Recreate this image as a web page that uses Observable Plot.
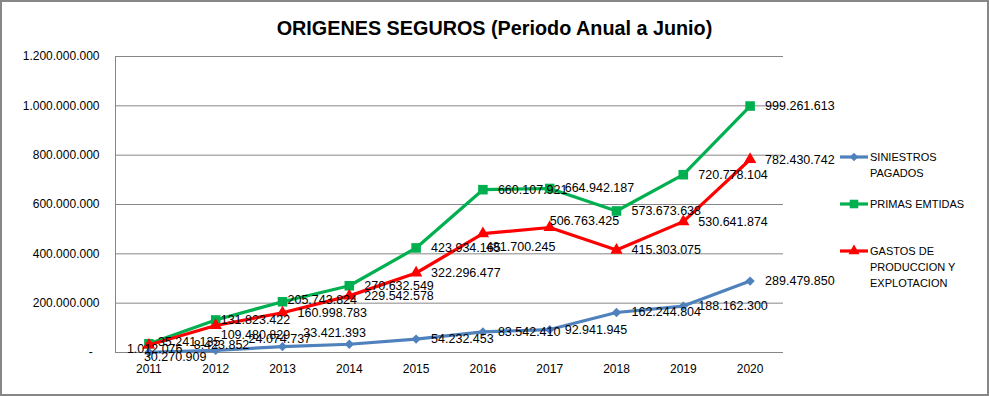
<!DOCTYPE html>
<html>
<head>
<meta charset="utf-8">
<script src="https://cdn.jsdelivr.net/npm/d3@7"></script>
<script src="https://cdn.jsdelivr.net/npm/@observablehq/plot@0.6"></script>
<style>
  html, body { margin: 0; padding: 0; background: #fff; }
  #wrap { position: relative; width: 989px; height: 396px; overflow: hidden; font-family: "Liberation Sans", Arial, sans-serif; }
  #border { position: absolute; left: 0; top: 0; width: 989px; height: 396px; box-sizing: border-box; border: 2px solid #878787; pointer-events: none; }
  #title { position: absolute; left: 0; width: 989px; top: 14px; text-align: center; font-size: 19.8px; font-weight: bold; color: #000; line-height: 28px; }
  #chart { position: absolute; left: 0; top: 0; }
  #legend { position: absolute; left: 839px; top: 0; }
  .item { position: absolute; left: 0; display: flex; align-items: flex-start; }
  .item svg { flex: none; }
  .item span { width: 112px; font-size: 11px; line-height: 16px; color: #000; margin-left: 1px; }
</style>
</head>
<body>
<div id="wrap">
  <div id="chart"></div>
  <div id="title"></div>
  <div id="legend"></div>
  <div id="border"></div>
</div>
<script>
// ---- data ----
const chartTitle = "ORIGENES SEGUROS (Periodo Anual a Junio)";
const years = [2011, 2012, 2013, 2014, 2015, 2016, 2017, 2018, 2019, 2020];
const siniestrosPagados = [1012076, 8423852, 24074737, 33421393, 54232453, 83542410, 92941945, 162244804, 188162300, 289479850];
const primasEmitidas = [35241135, 131823422, 205743824, 270632549, 423934165, 660107921, 664942187, 573673638, 720778104, 999261613];
const gastosProduccion = [30270909, 109480829, 160998783, 229542578, 322296477, 481700245, 506763425, 415303075, 530641874, 782430742];
const seriesNames = ["SINIESTROS PAGADOS", "PRIMAS EMTIDAS", "GASTOS DE PRODUCCION Y EXPLOTACION"];
const yTicks = [0, 200000000, 400000000, 600000000, 800000000, 1000000000, 1200000000];

// ---- styles ----
const styles = [
  {key: "S", color: "#4F81BD", symbol: "diamond2", r: 4.2},
  {key: "P", color: "#00B050", symbol: "square", r: 5.4},
  {key: "G", color: "#FF0000", symbol: "triangle", r: 4.6}
];
const seriesValues = [siniestrosPagados, primasEmitidas, gastosProduccion];

// label nudges (pixel offsets) for labels that were moved in the original
const labelNudges = {
  S2011: [-22, -3], S2012: [-22, -5], S2013: [-34, -8], S2014: [-46, -11],
  P2011: [9, -2], P2012: [5, 0], P2013: [5, -2],
  G2011: [-5, 12], G2012: [5, 10], G2016: [3, 13], G2017: [0, -6]
};
const defaultNudge = [15, 0];

const fmt = v => v === 0 ? "-\u00a0\u00a0" : d3.format(",")(v).replace(/,/g, ".");

const rows = [];
seriesValues.forEach((vals, si) => years.forEach((yr, i) => rows.push({
  series: seriesNames[si], key: styles[si].key, year: yr, value: vals[i]
})));

const marks = [
  Plot.ruleY(yTicks, {stroke: "#878787", strokeWidth: 1}),
  Plot.ruleX([years[0] - 0.5], {stroke: "#878787", strokeWidth: 1}),
  Plot.axisY({ticks: yTicks, tickSize: 0, tickPadding: 16, tickFormat: fmt, fontSize: 12, fill: "#000", label: null}),
  Plot.axisX({ticks: years, tickSize: 0, tickPadding: 12, tickFormat: d => String(d), fontSize: 12, fill: "#000", label: null})
];
styles.forEach((st, si) => {
  const data = rows.filter(r => r.key === st.key);
  marks.push(Plot.line(data, {x: "year", y: "value", stroke: st.color, strokeWidth: 3.2, strokeLinejoin: "round"}));
  marks.push(Plot.dot(data, {x: "year", y: "value", symbol: () => st.symbol, fill: st.color, stroke: "none", r: st.r}));
});
const groups = d3.group(rows, r => (labelNudges[r.key + r.year] || defaultNudge).join(","));
for (const [k, grp] of groups) {
  const [dx, dy] = k.split(",").map(Number);
  marks.push(Plot.text(grp, {x: "year", y: "value", text: r => fmt(r.value), dx, dy, textAnchor: "start", fontSize: 12.5, fill: "#000"}));
}

const chart = Plot.plot({
  width: 989,
  height: 396,
  marginLeft: 115,
  marginRight: 206,
  marginTop: 56,
  marginBottom: 44,
  style: {fontFamily: "'Liberation Sans', Arial, sans-serif", background: "transparent", overflow: "visible"},
  x: {type: "linear", domain: [years[0] - 0.5, years[years.length - 1] + 0.5], label: null},
  y: {domain: [0, yTicks[yTicks.length - 1]], label: null},
  symbol: {type: "identity"},
  marks
});
document.getElementById("chart").appendChild(chart);
document.getElementById("title").textContent = chartTitle;

// ---- legend ----
const legendTops = [149, 196, 243];
const legend = document.getElementById("legend");
styles.forEach((st, i) => {
  const item = document.createElement("div");
  item.className = "item";
  item.style.top = legendTops[i] + "px";
  const svg = d3.create("svg").attr("width", 30).attr("height", 16);
  svg.append("line").attr("x1", 1).attr("x2", 29).attr("y1", 8).attr("y2", 8).attr("stroke", st.color).attr("stroke-width", 3.2);
  const symMap = {diamond2: d3.symbolDiamond2, square: d3.symbolSquare, triangle: d3.symbolTriangle};
  svg.append("path").attr("transform", "translate(15,8)").attr("d", d3.symbol(symMap[st.symbol], Math.PI * st.r * st.r * 0.8)()).attr("fill", st.color);
  item.appendChild(svg.node());
  const span = document.createElement("span");
  span.textContent = seriesNames[i];
  item.appendChild(span);
  legend.appendChild(item);
});
</script>
</body>
</html>
